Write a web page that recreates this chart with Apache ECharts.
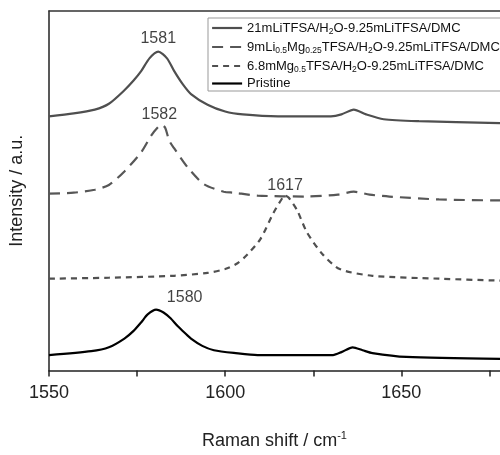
<!DOCTYPE html>
<html>
<head>
<meta charset="utf-8">
<script src="https://cdn.jsdelivr.net/npm/echarts@6/dist/echarts.min.js"></script>
<style>
  html, body { margin: 0; padding: 0; background: #fff; }
  #chart { width: 500px; height: 455px; }
</style>
</head>
<body>
<div id="chart"></div>
<script>
// Raman spectra, stacked with offsets (arbitrary intensity units)
const seriesNames = [
  '21mLiTFSA/H2O-9.25mLiTFSA/DMC',
  '9mLi0.5Mg0.25TFSA/H2O-9.25mLiTFSA/DMC',
  '6.8mMg0.5TFSA/H2O-9.25mLiTFSA/DMC',
  'Pristine'
];

const li21X = [1550, 1557, 1563, 1567, 1571.4, 1574, 1576.2, 1578.5, 1581, 1583.5, 1585.5, 1588, 1590.3, 1595, 1600, 1605, 1615, 1630, 1633, 1636.5, 1640, 1645, 1655, 1678];
const li21Y = [263, 266, 270, 276, 290, 300, 310, 323, 330, 323, 310, 296, 286, 275, 268, 265, 263, 263, 265, 270, 265, 260, 258, 256];

const liMgX = [1550, 1557, 1563, 1567, 1571.4, 1576.2, 1579, 1581, 1582, 1583, 1584.1, 1585.5, 1589.4, 1593.9, 1599.6, 1602.4, 1609.2, 1623, 1632, 1636.5, 1641, 1646.6, 1660.7, 1678];
const liMgY = [183, 184, 187, 192, 206, 226, 243, 252, 254, 251, 238, 230, 210, 193, 185, 184, 181, 180, 182, 185, 182, 180, 177, 176];

const mgX = [1550, 1567, 1585.5, 1595, 1600, 1603.5, 1606.3, 1610, 1613.7, 1616.5, 1617, 1618, 1620.4, 1623.2, 1627.7, 1632.5, 1641.8, 1660.7, 1678];
const mgY = [95, 96, 98, 101, 105, 111, 120, 136, 163, 180, 181, 179, 166, 143, 120, 105, 98, 95, 93];

const prisX = [1550, 1562, 1567, 1571.4, 1574, 1576.2, 1578, 1580.4, 1582.5, 1584.5, 1586.5, 1588.5, 1590.3, 1593.5, 1596.8, 1603, 1609.2, 1630.6, 1633, 1636.2, 1639, 1641.8, 1651.4, 1678];
const prisY = [16, 20, 24, 33, 41, 50, 58, 63, 60, 54, 46, 39, 33, 25.5, 21, 18, 16, 16, 19, 24, 21, 18, 14, 12];

// peak annotations (text, x, y of label centre)
const peakText = ['1581', '1582', '1617', '1580'];
const peakX = [1581, 1581.3, 1617, 1588.5];
const peakY = [343, 265, 191, 75];

const FONT = "'Liberation Sans', Arial, sans-serif";

const zip = (xs, ys) => xs.map((x, i) => [x, ys[i]]);

const chart = echarts.init(document.getElementById('chart'));

const styles = [
  { color: '#4f4f4f', type: 'solid' },
  { color: '#575757', type: [11, 7] },
  { color: '#505050', type: [6, 5] },
  { color: '#000000', type: 'solid' }
];
const datasets = [zip(li21X, li21Y), zip(liMgX, liMgY), zip(mgX, mgY), zip(prisX, prisY)];

const legendRich = {
  n: { fontSize: 13, fontFamily: FONT, color: '#111', lineHeight: 14 },
  s: { fontSize: 8.5, fontFamily: FONT, color: '#111', padding: [7, 0, 0, 0], lineHeight: 14 }
};

const legendLabel = name => {
  if (name === seriesNames[0]) return '{n|21mLiTFSA/H}{s|2}{n|O-9.25mLiTFSA/DMC}';
  if (name === seriesNames[1]) return '{n|9mLi}{s|0.5}{n|Mg}{s|0.25}{n|TFSA/H}{s|2}{n|O-9.25mLiTFSA/DMC}';
  if (name === seriesNames[2]) return '{n|6.8mMg}{s|0.5}{n|TFSA/H}{s|2}{n|O-9.25mLiTFSA/DMC}';
  return '{n|' + name + '}';
};

const option = {
  animation: false,
  grid: { left: 47, right: 0, top: 11, bottom: 72 },
  legend: {
    data: seriesNames.map((name, i) => ({
      name: name,
      lineStyle: { color: styles[i].color, width: 2.2, type: styles[i].type }
    })),
    orient: 'vertical',
    left: 208,
    top: 18,
    itemWidth: 30,
    itemHeight: 14,
    itemGap: 3,
    padding: [2, 4, 1, 3],
    borderColor: '#999',
    borderWidth: 1,
    backgroundColor: '#fff',
    itemStyle: { opacity: 0 },
    formatter: legendLabel,
    textStyle: { rich: legendRich },
    selectedMode: false
  },
  xAxis: [
    {
      type: 'value',
      min: 1550,
      max: 1678,
      interval: 25,
      name: '{n|Raman shift / cm}{p|-1}',
      nameLocation: 'middle',
      nameGap: 60,
      nameTextStyle: {
        rich: {
          n: { fontSize: 18, fontFamily: FONT, color: '#222' },
          p: { fontSize: 11, fontFamily: FONT, color: '#222', padding: [0, 0, 10, 0] }
        }
      },
      splitLine: { show: false },
      axisLine: { lineStyle: { color: '#222', width: 1.5 } },
      axisTick: { inside: false, length: 6, lineStyle: { color: '#222', width: 1.5 } },
      axisLabel: {
        fontSize: 18,
        fontFamily: FONT,
        color: '#222',
        margin: 14,
        showMaxLabel: false,
        formatter: v => (v % 50 === 0 ? String(v) : '')
      }
    },
    {
      type: 'value',
      position: 'top',
      min: 1550,
      max: 1678,
      axisLine: { show: true, lineStyle: { color: '#333', width: 1.5 } },
      axisTick: { show: false },
      axisLabel: { show: false },
      splitLine: { show: false }
    }
  ],
  yAxis: {
    type: 'value',
    min: 0,
    max: 372,
    name: 'Intensity / a.u.',
    nameLocation: 'middle',
    nameGap: 23,
    nameTextStyle: { fontSize: 18, fontFamily: FONT, color: '#222' },
    axisLine: { show: true, lineStyle: { color: '#222', width: 1.5 } },
    axisTick: { show: false },
    axisLabel: { show: false },
    splitLine: { show: false }
  },
  series: seriesNames.map((name, i) => ({
    name: name,
    type: 'line',
    data: datasets[i],
    smooth: 0.25,
    symbol: 'none',
    color: styles[i].color,
    lineStyle: { color: styles[i].color, width: 2.2, type: styles[i].type },
    z: 3
  })).concat([{
    type: 'scatter',
    data: peakText.map((t, i) => ({ value: [peakX[i], peakY[i]], name: t })),
    symbolSize: 0,
    silent: true,
    label: {
      show: true,
      position: 'inside',
      formatter: p => p.name,
      fontSize: 16,
      fontFamily: FONT,
      color: '#111'
    },
    z: 4
  }])
};

chart.setOption(option);
</script>
</body>
</html>
